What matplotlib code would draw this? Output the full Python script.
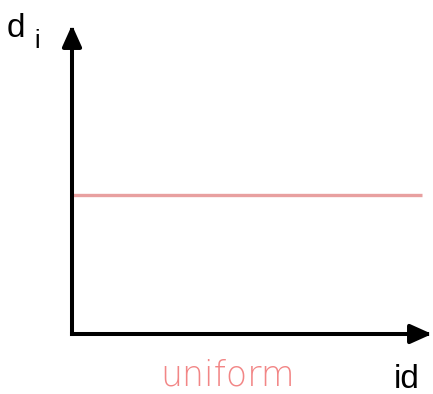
import matplotlib
matplotlib.use("Agg")
import matplotlib.pyplot as plt

# data: one uniform value across all ids
ids = [0.0, 0.972]
d_values = [0.45, 0.45]
label = "uniform"

W, H = 433, 394
fig = plt.figure(figsize=(W / 100, H / 100), dpi=100)

# axes box in pixels: origin (72, 334), x tip 432, y tip 25
x0, y0, x1, y1 = 72, 334, 432, 25
ax = fig.add_axes([x0 / W, 1 - y0 / H, (x1 - x0) / W, (y0 - y1) / H])
ax.set_xlim(0, 1)
ax.set_ylim(0, 1)
ax.axis("off")

ax.plot(ids, d_values, color="#E8A0A0", lw=2.4, solid_capstyle="butt", zorder=1)

arrow = dict(arrowstyle="-|>,head_length=1.0,head_width=0.45", color="black",
             lw=2.9, mutation_scale=13, shrinkA=0, shrinkB=0,
             capstyle="projecting")
ax.annotate("", xy=(0, 1), xytext=(0, 0), xycoords="axes fraction",
            arrowprops=arrow, annotation_clip=False, zorder=3)
ax.annotate("", xy=(1, 0), xytext=(0, 0), xycoords="axes fraction",
            arrowprops=arrow, annotation_clip=False, zorder=3)


def px(x, y):
    return x / W, 1 - y / H


fig.text(*px(7, 37), "d", fontsize=24, family="Liberation Sans",
         ha="left", va="baseline")
fig.text(*px(34, 48), "i", fontsize=18, family="Liberation Sans",
         ha="left", va="baseline")
fig.text(*px(394, 388), "id", fontsize=24, family="Liberation Sans",
         ha="left", va="baseline")
fig.text(*px(228, 386), label, fontsize=25, family="DejaVu Sans",
         fontweight="light", color="#F28686", ha="center", va="baseline")

fig.savefig("out.png", dpi=100)
